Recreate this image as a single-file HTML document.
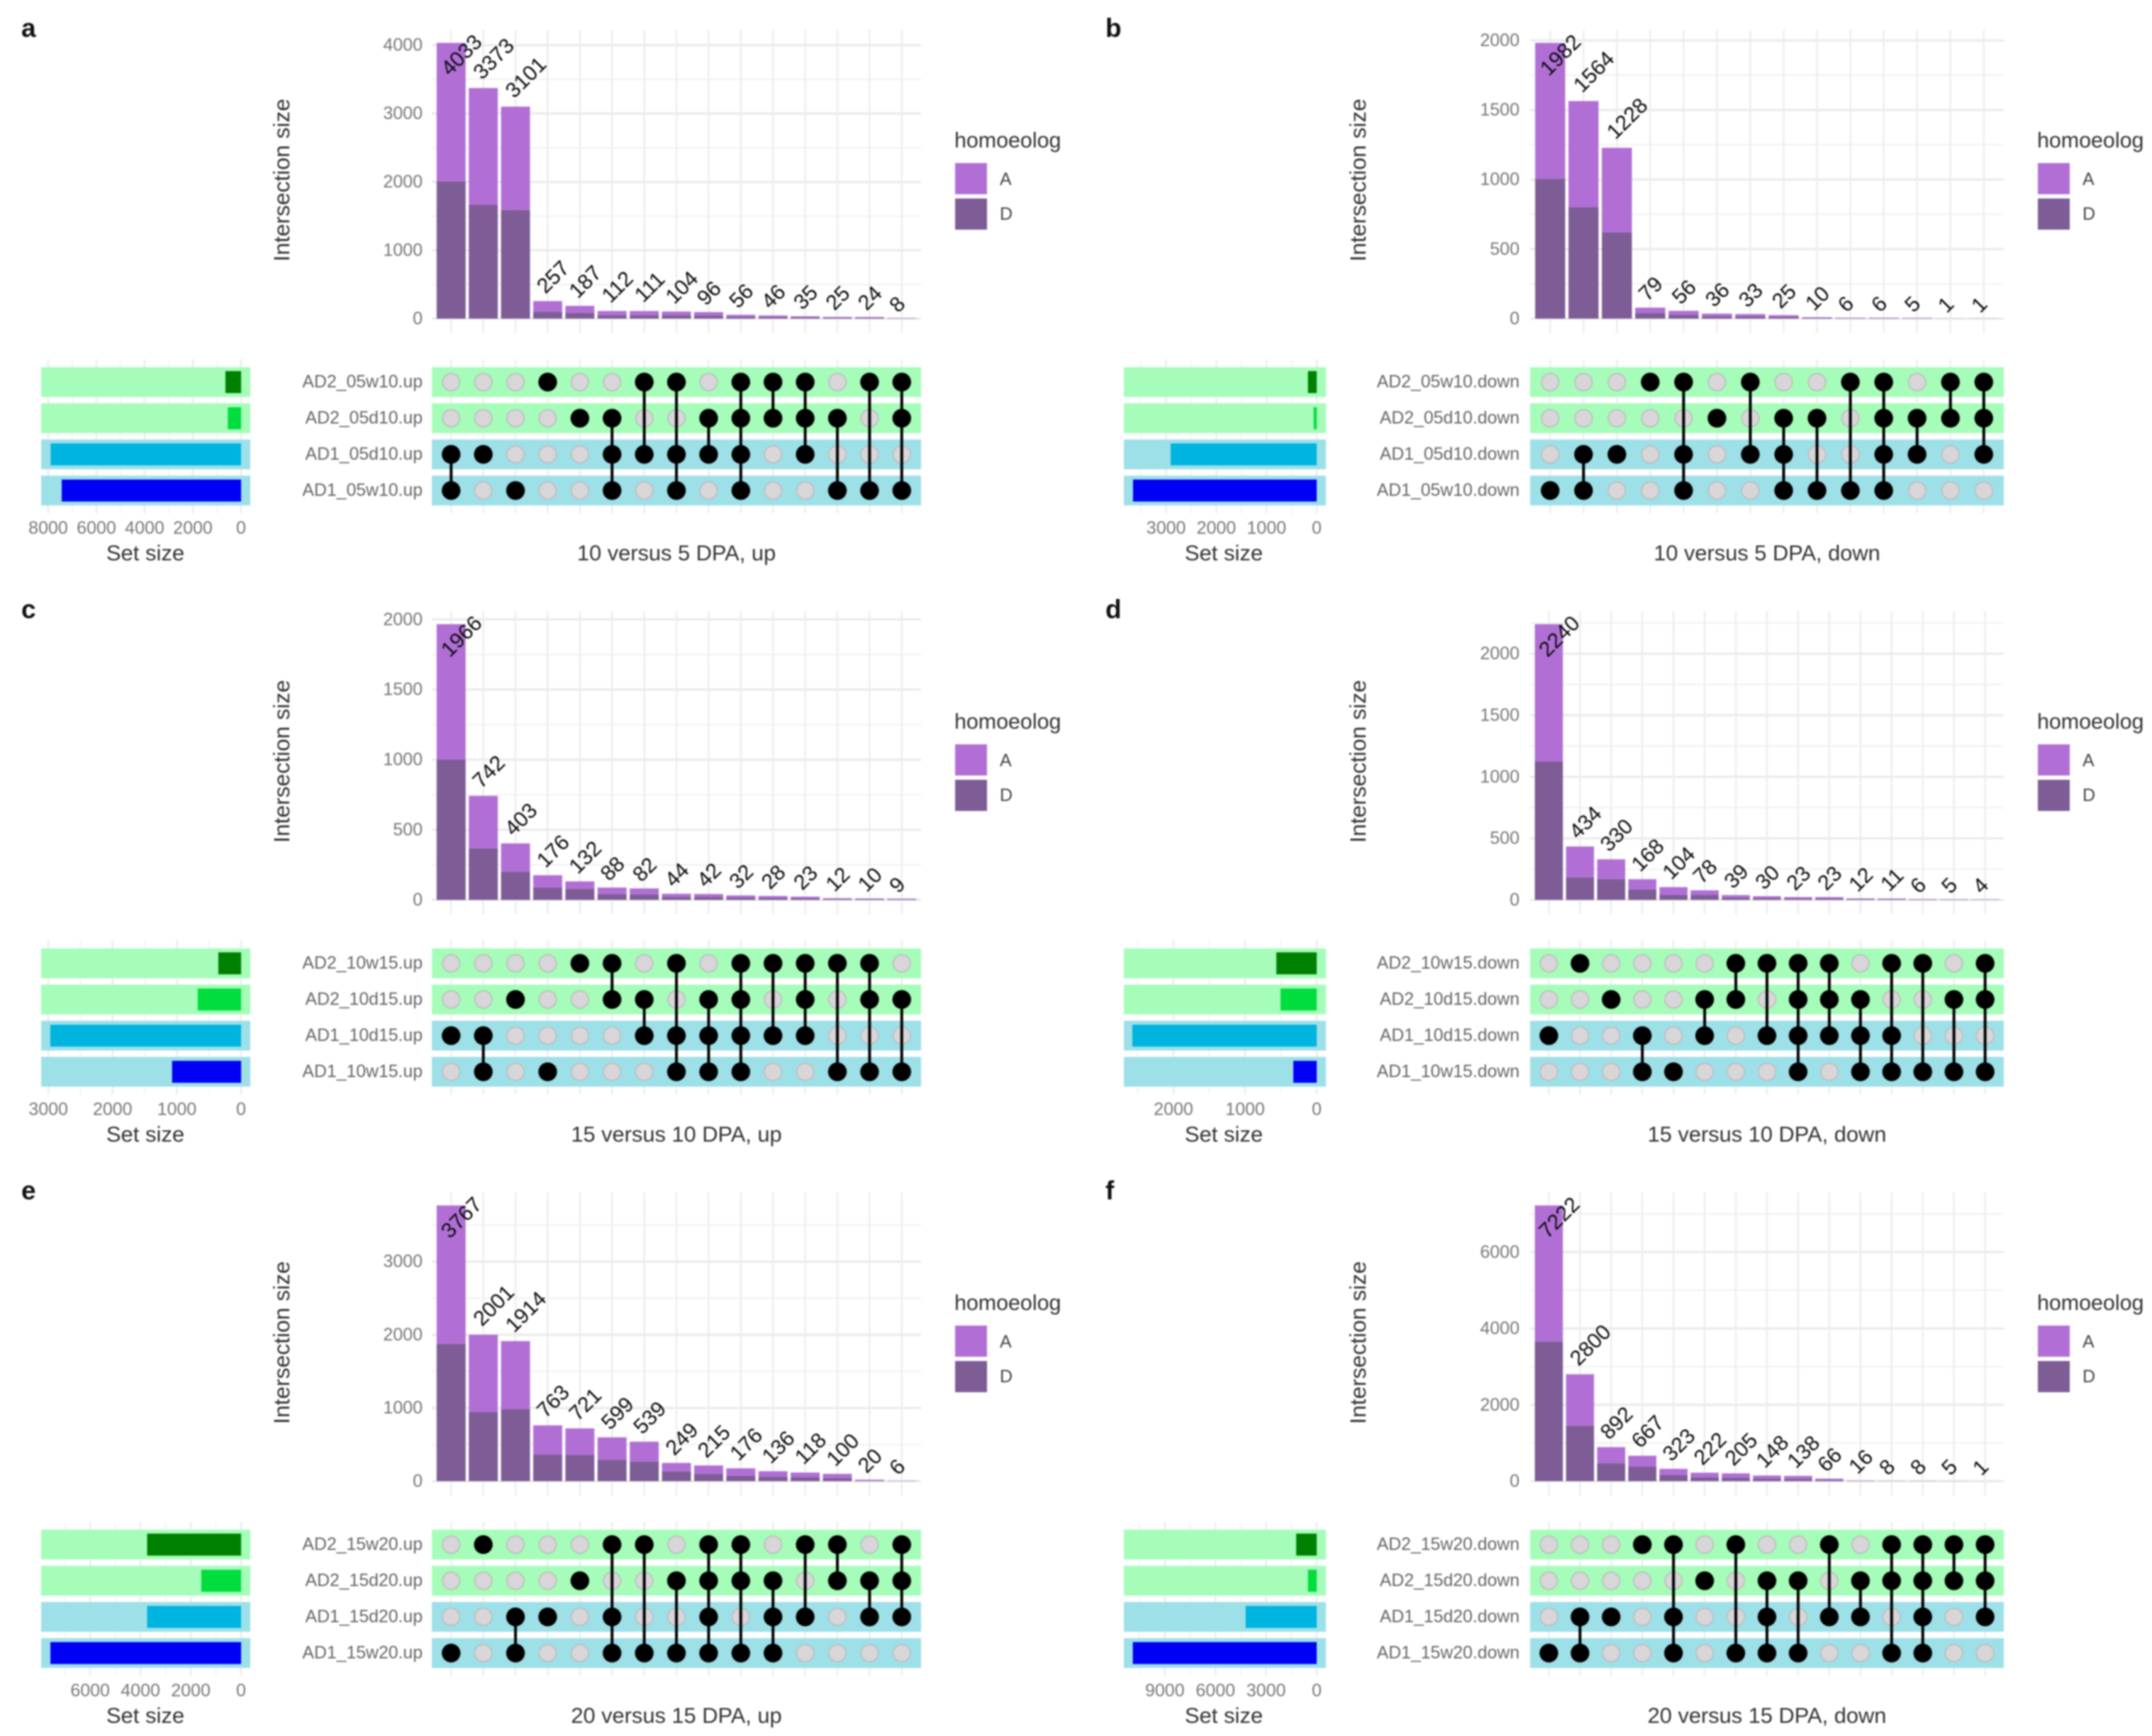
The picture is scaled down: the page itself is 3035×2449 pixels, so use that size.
<!DOCTYPE html>
<html lang="en">
<head>
<meta charset="utf-8">
<title>UpSet plots of homoeolog expression changes</title>
<style>
  html, body { margin: 0; padding: 0; background: #fff; }
  #figure { display: block; width: 3035px; height: 2449px; filter: blur(1.1px); background: #fff; }
  text { font-family: "Liberation Sans", sans-serif; }
</style>
</head>
<body>
<svg id="figure" xmlns="http://www.w3.org/2000/svg" width="3035" height="2449" viewBox="0 0 3035 2449"></svg>
<script>
/* ---------- panel a ---------- */
const aTitle = '10 versus 5 DPA, up';
const aSets = ['AD2_05w10.up', 'AD2_05d10.up', 'AD1_05d10.up', 'AD1_05w10.up'];
const aTotals = [4033, 3373, 3101, 257, 187, 112, 111, 104, 96, 56, 46, 35, 25, 24, 8];
const aD = [2005, 1664, 1588, 100, 85, 50, 50, 50, 45, 25, 22, 16, 12, 12, 4];
const aTicks = [0, 1000, 2000, 3000, 4000];
const aMax = 4033;
const aSetSizes = [650, 550, 7900, 7440];
const aSetTicks = [8000, 6000, 4000, 2000, 0];
const aSetMax = 8294;
const aMembers = [[2,3],[2],[3],[0],[1],[1,2,3],[0,2],[0,2,3],[1,2],[0,1,2,3],[0,1],[0,1,2],[1,3],[0,3],[0,1,3]];

/* ---------- panel b ---------- */
const bTitle = '10 versus 5 DPA, down';
const bSets = ['AD2_05w10.down', 'AD2_05d10.down', 'AD1_05d10.down', 'AD1_05w10.down'];
const bTotals = [1982, 1564, 1228, 79, 56, 36, 33, 25, 10, 6, 6, 5, 1, 1];
const bD = [1005, 800, 619, 40, 27, 17, 16, 12, 5, 3, 3, 2, 0, 1];
const bTicks = [0, 500, 1000, 1500, 2000];
const bMax = 1982;
const bSetSizes = [175, 60, 2910, 3660];
const bSetTicks = [3000, 2000, 1000, 0];
const bSetMax = 3842;
const bMembers = [[3],[2,3],[2],[0],[0,2,3],[1],[0,2],[1,2,3],[1,3],[0,3],[0,1,2,3],[1,2],[0,1],[0,1,2]];

/* ---------- panel c ---------- */
const cTitle = '15 versus 10 DPA, up';
const cSets = ['AD2_10w15.up', 'AD2_10d15.up', 'AD1_10d15.up', 'AD1_10w15.up'];
const cTotals = [1966, 742, 403, 176, 132, 88, 82, 44, 42, 32, 28, 23, 12, 10, 9];
const cD = [1000, 367, 200, 88, 78, 42, 38, 20, 20, 15, 13, 11, 6, 5, 4];
const cTicks = [0, 500, 1000, 1500, 2000];
const cMax = 1966;
const cSetSizes = [354, 675, 2970, 1074];
const cSetTicks = [3000, 2000, 1000, 0];
const cSetMax = 3112;
const cMembers = [[2],[2,3],[1],[3],[0],[0,1],[1,2],[0,2,3],[1,2,3],[0,1,2,3],[0,2],[0,1,2],[0,3],[0,1,3],[1,3]];

/* ---------- panel d ---------- */
const dTitle = '15 versus 10 DPA, down';
const dSets = ['AD2_10w15.down', 'AD2_10d15.down', 'AD1_10d15.down', 'AD1_10w15.down'];
const dTotals = [2240, 434, 330, 168, 104, 78, 39, 30, 23, 23, 12, 11, 6, 5, 4];
const dD = [1125, 183, 168, 85, 40, 40, 18, 14, 11, 11, 6, 5, 3, 2, 2];
const dTicks = [0, 500, 1000, 1500, 2000];
const dMax = 2240;
const dSetSizes = [564, 505, 2575, 327];
const dSetTicks = [2000, 1000, 0];
const dSetMax = 2693;
const dMembers = [[2],[0],[1],[2,3],[3],[1,2],[0,1],[0,2],[0,1,2,3],[0,1,2],[1,2,3],[0,2,3],[0,3],[1,3],[0,1,3]];

/* ---------- panel e ---------- */
const eTitle = '20 versus 15 DPA, up';
const eSets = ['AD2_15w20.up', 'AD2_15d20.up', 'AD1_15d20.up', 'AD1_15w20.up'];
const eTotals = [3767, 2001, 1914, 763, 721, 599, 539, 249, 215, 176, 136, 118, 100, 20, 6];
const eD = [1876, 945, 985, 363, 358, 293, 268, 134, 100, 75, 60, 55, 40, 8, 3];
const eTicks = [0, 1000, 2000, 3000];
const eMax = 3767;
const eSetSizes = [3735, 1584, 3735, 7580];
const eSetTicks = [6000, 4000, 2000, 0];
const eSetMax = 7949;
const eMembers = [[3],[0],[2,3],[2],[1],[0,2,3],[0,3],[1,3],[0,1,2,3],[0,1,3],[1,2,3],[0,2],[0,1],[1,2],[0,1,2]];

/* ---------- panel f ---------- */
const fTitle = '20 versus 15 DPA, down';
const fSets = ['AD2_15w20.down', 'AD2_15d20.down', 'AD1_15d20.down', 'AD1_15w20.down'];
const fTotals = [7222, 2800, 892, 667, 323, 222, 205, 148, 138, 66, 16, 8, 8, 5, 1];
const fD = [3655, 1450, 468, 382, 160, 100, 90, 70, 60, 30, 7, 4, 4, 2, 0];
const fTicks = [0, 2000, 4000, 6000];
const fMax = 7222;
const fSetSizes = [1218, 520, 4215, 10900];
const fSetTicks = [9000, 6000, 3000, 0];
const fSetMax = 11429;
const fMembers = [[3],[2,3],[2],[0],[0,2,3],[1],[0,3],[1,2,3],[1,3],[0,2],[1,2],[0,1,3],[0,1,2,3],[0,1],[0,1,2]];

const legendKeys = ['A', 'D'];

const COLOR_A = '#b16fd6';
const COLOR_D = '#7e5c96';
const SET_COLORS = ['#008000', '#00dd3c', '#00b4e0', '#0000f5'];
const ROW_COLORS = ['#a5fdb9', '#a5fdb9', '#9ee0e8', '#9ee0e8'];

const svg = document.getElementById('figure');
const NS = 'http://www.w3.org/2000/svg';

function make(tag, geometry, parent) {
  const node = document.createElementNS(NS, tag);
  for (const key in geometry) node.setAttribute(key, geometry[key]);
  parent.appendChild(node);
  return node;
}

function drawPanel(letter, title, sets, totals, dValues, ticks, maxValue, setSizes, setTicks, setMax, members, col, row) {
  const oy = row * 820;
  const L = col === 0
    ? { mL: 609, mR: 1299, sL: 58, sR: 353, sZero: 340, sTitle: 205, labR: 596, yTitle: 397, leg: 1347, letter: 30 }
    : { mL: 2158, mR: 2826, sL: 1585, sR: 1870, sZero: 1857, sTitle: 1726, labR: 2143, yTitle: 1915, leg: 2874, letter: 1559 };
  const base = 449.5 + oy;
  const plotH = 389;
  const yPos = v => base - v * plotH / maxValue;
  const unit = (L.mR - L.mL) / (totals.length - 1 + 1.2);
  const xPos = i => L.mL + (0.6 + i) * unit;
  const rowY = [539, 590, 641, 692].map(v => v + oy);
  const setX = v => L.sZero - v * (L.sZero - L.sL) / setMax;

  const g = make('g', {}, svg);
  
  

  const tag = make('text', { x: L.letter, y: 52 + oy, 'font-size': 37, 'font-weight': 'bold', fill: '#111' }, g);
  tag.textContent = letter;
  
  

  /* intersection-size grid */
  const step = ticks[1] - ticks[0];
  for (let v = step / 2; yPos(v) > oy + 42; v += step) {
    const minor = make('line', { x1: L.mL, x2: L.mR, y1: yPos(v), y2: yPos(v), stroke: '#f1f1f1', 'stroke-width': 2 }, g);
    
    
  }
  ticks.forEach(t => {
    const major = make('line', { x1: L.mL, x2: L.mR, y1: yPos(t), y2: yPos(t), stroke: '#ebebeb', 'stroke-width': 3.2 }, g);
    
    
    const tl = make('text', { x: L.labR, y: yPos(t), 'font-size': 25, fill: '#777', 'text-anchor': 'end', 'dominant-baseline': 'central' }, g);
    tl.textContent = t;
    
    
  });

  totals.forEach((t, i) => {
    const vg = make('line', { x1: xPos(i), x2: xPos(i), y1: 42 + oy, y2: 470 + oy, stroke: '#eeeeee', 'stroke-width': 2.6 }, g);
    
    
    const vs = make('line', { x1: xPos(i), x2: xPos(i), y1: 507 + oy, y2: 724 + oy, stroke: '#eeeeee', 'stroke-width': 2.6 }, g);
    
    
  });

  const yt = make('text', { x: L.yTitle, y: 254 + oy, 'font-size': 31.8, fill: '#333', 'text-anchor': 'middle', 'dominant-baseline': 'central', transform: 'rotate(-90 ' + L.yTitle + ' ' + (254 + oy) + ')' }, g);
  yt.textContent = 'Intersection size';
  
  

  /* stacked bars */
  const barW = unit * 0.9;
  totals.forEach((t, i) => {
    const x = xPos(i) - barW / 2;
    const d = dValues[i];
    const barA = make('rect', { x: x, width: barW, y: yPos(t), height: Math.max(yPos(d) - yPos(t), 0), fill: COLOR_A }, g);
    
    
    const barD = make('rect', { x: x, width: barW, y: yPos(d), height: base - yPos(d), fill: COLOR_D }, g);
    
    
  });
  totals.forEach((t, i) => {
    const n = String(t).length;
    const cx = xPos(i) - 6 + 7 * (n - 1);
    const cy = Math.max(78 + oy, yPos(t) - (19 + 7.3 * (n - 1)));
    const lab = make('text', { x: cx, y: cy, 'font-size': 30, fill: '#0d0d0d', 'text-anchor': 'middle', 'dominant-baseline': 'central', transform: 'rotate(-45 ' + cx + ' ' + cy + ')' }, g);
    lab.textContent = t;
    
    
  });

  /* set-size panel grid stubs */
  const sStep = setTicks[0] - setTicks[1];
  for (let m = 0; setX(m * sStep / 2) > L.sL; m++) {
    const sx = setX(m * sStep / 2);
    const sg = make('line', { x1: sx, x2: sx, y1: 507 + oy, y2: 724 + oy, stroke: m % 2 ? '#f3f3f3' : '#ececec', 'stroke-width': m % 2 ? 1.8 : 2.6 }, g);
    
    
  }

  /* rows */
  sets.forEach((name, r) => {
    const sb = make('rect', { x: L.sL, width: L.sR - L.sL, y: rowY[r] - 21, height: 42, fill: ROW_COLORS[r] }, g);
    
    
    const mb = make('rect', { x: L.mL, width: L.mR - L.mL, y: rowY[r] - 21, height: 42, fill: ROW_COLORS[r] }, g);
    
    
    const sz = make('rect', { x: setX(setSizes[r]), width: L.sZero - setX(setSizes[r]), y: rowY[r] - 15.5, height: 31, fill: SET_COLORS[r] }, g);
    
    
    const nm = make('text', { x: L.labR, y: rowY[r], 'font-size': 24.8, fill: '#666', 'text-anchor': 'end', 'dominant-baseline': 'central' }, g);
    nm.textContent = name;
    
    
  });

  /* matrix dots */
  members.forEach((combo, i) => {
    const cx = xPos(i);
    sets.forEach((name, r) => {
      if (combo.indexOf(r) === -1) {
        const off = make('circle', { cx: cx, cy: rowY[r], r: 12.2, fill: '#d8d6d8', stroke: '#bcbcbc', 'stroke-width': 1.6 }, g);
        
        
      }
    });
    if (combo.length > 1) {
      const link = make('line', { x1: cx, x2: cx, y1: rowY[Math.min.apply(null, combo)], y2: rowY[Math.max.apply(null, combo)], stroke: '#000', 'stroke-width': 4 }, g);
      
      
    }
    combo.forEach(r => {
      const on = make('circle', { cx: cx, cy: rowY[r], r: 13.2, fill: '#000' }, g);
      
      
    });
  });

  /* set-size axis */
  setTicks.forEach(t => {
    const st = make('text', { x: setX(t), y: 745 + oy, 'font-size': 25, fill: '#777', 'text-anchor': 'middle', 'dominant-baseline': 'central' }, g);
    st.textContent = t;
    
    
  });
  const sTitle = make('text', { x: L.sTitle, y: 780 + oy, 'font-size': 31, fill: '#333', 'text-anchor': 'middle', 'dominant-baseline': 'central' }, g);
  sTitle.textContent = 'Set size';
  
  

  const xTitle = make('text', { x: (L.mL + L.mR) / 2, y: 780 + oy, 'font-size': 30.8, fill: '#333', 'text-anchor': 'middle', 'dominant-baseline': 'central' }, g);
  xTitle.textContent = title;
  
  

  /* legend */
  const lt = make('text', { x: L.leg - 1, y: 208 + oy, 'font-size': 30.4, fill: '#333' }, g);
  lt.textContent = 'homoeolog';
  
  
  legendKeys.forEach((k, i) => {
    const sw = make('rect', { x: L.leg, y: 230 + oy + i * 50, width: 45, height: 44, fill: i === 0 ? COLOR_A : COLOR_D }, g);
    
    
    const kt = make('text', { x: L.leg + 63, y: 253 + oy + i * 49, 'font-size': 25, fill: '#444', 'dominant-baseline': 'central' }, g);
    kt.textContent = k;
    
    
  });
}

drawPanel('a', aTitle, aSets, aTotals, aD, aTicks, aMax, aSetSizes, aSetTicks, aSetMax, aMembers, 0, 0);
drawPanel('b', bTitle, bSets, bTotals, bD, bTicks, bMax, bSetSizes, bSetTicks, bSetMax, bMembers, 1, 0);
drawPanel('c', cTitle, cSets, cTotals, cD, cTicks, cMax, cSetSizes, cSetTicks, cSetMax, cMembers, 0, 1);
drawPanel('d', dTitle, dSets, dTotals, dD, dTicks, dMax, dSetSizes, dSetTicks, dSetMax, dMembers, 1, 1);
drawPanel('e', eTitle, eSets, eTotals, eD, eTicks, eMax, eSetSizes, eSetTicks, eSetMax, eMembers, 0, 2);
drawPanel('f', fTitle, fSets, fTotals, fD, fTicks, fMax, fSetSizes, fSetTicks, fSetMax, fMembers, 1, 2);
</script>
</body>
</html>
